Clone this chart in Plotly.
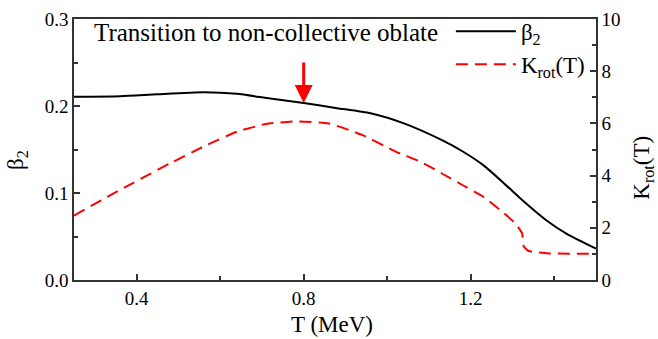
import plotly.graph_objects as go

# Quadrupole deformation beta_2 versus temperature
T_beta = [0.25, 0.36, 0.45, 0.56, 0.64, 0.72, 0.80, 0.88, 0.96, 1.04, 1.13,
          1.18, 1.23, 1.28, 1.33, 1.38, 1.43, 1.50]
beta2 = [0.2105, 0.2112, 0.2135, 0.2157, 0.2140, 0.2085, 0.2035, 0.1975, 0.1916,
         0.1800, 0.1610, 0.1480, 0.1320, 0.1110, 0.0890, 0.0690, 0.0530, 0.0360]

# Rotational enhancement factor K_rot(T)
T_krot = [0.25, 0.36, 0.48, 0.56, 0.64, 0.71, 0.78, 0.86, 0.94, 1.02, 1.08,
          1.13, 1.18, 1.23, 1.275, 1.307, 1.323, 1.327, 1.339, 1.387, 1.50]
krot = [2.47, 3.45, 4.47, 5.11, 5.68, 5.98, 6.08, 6.00, 5.56, 4.92, 4.53,
        4.09, 3.64, 3.19, 2.62, 2.17, 1.79, 1.28, 1.11, 1.02, 1.00]

# Marked transition point
T_mark = 0.80
beta_mark = 0.2035

FONT = "Liberation Serif"
AXIS_COLOR = "#333333"
TICK_FONT = dict(family=FONT, size=19, color="black")
TITLE_FONT = dict(family=FONT, size=23, color="black")

fig = go.Figure()
fig.add_trace(go.Scatter(
    x=T_beta, y=beta2, mode="lines", name="β<sub>2</sub>",
    line=dict(color="black", width=2, shape="spline", smoothing=0.6),
))
fig.add_trace(go.Scatter(
    x=T_krot, y=krot, mode="lines", name="K<sub>rot</sub>(T)", yaxis="y2",
    line=dict(color="#ff0000", width=2, dash="12px,7px", shape="spline", smoothing=0.4),
))

fig.add_annotation(
    x=0.294, y=0.284, xref="x", yref="y", text="Transition to non-collective oblate",
    showarrow=False, xanchor="left", yanchor="middle",
    font=dict(family=FONT, size=25, color="black"),
)
fig.add_annotation(
    x=T_mark, y=beta_mark, xref="x", yref="y", text="",
    showarrow=True, ax=0, ay=-42, arrowhead=2, arrowsize=1.2,
    arrowwidth=3, arrowcolor="#ff0000",
)

# Axis titles, placed in paper coordinates around the plotting area
fig.add_annotation(
    x=0.494, y=-0.224, xref="paper", yref="paper", text="T (MeV)",
    showarrow=False, xanchor="center", yanchor="bottom", borderpad=0, font=TITLE_FONT,
)
fig.add_annotation(
    x=-0.109, y=0.46, xref="paper", yref="paper", text="β<sub>2</sub>",
    showarrow=False, xanchor="center", yanchor="middle", textangle=-90, font=TITLE_FONT,
)
fig.add_annotation(
    x=1.09, y=0.43, xref="paper", yref="paper", text="K<sub>rot</sub>(T)",
    showarrow=False, xanchor="center", yanchor="middle", textangle=-90, font=TITLE_FONT,
)

fig.update_layout(
    width=658, height=339,
    margin=dict(l=74, r=62, t=19, b=59, autoexpand=False),
    plot_bgcolor="white", paper_bgcolor="white",
    font=dict(family=FONT, size=19, color="black"),
    xaxis=dict(
        range=[0.25, 1.5], dtick=0.4, tick0=0.0, mirror=True,
        showline=True, linecolor=AXIS_COLOR, linewidth=1.5,
        ticks="inside", ticklen=6, tickwidth=1.5, tickcolor=AXIS_COLOR,
        showgrid=False, zeroline=False, tickfont=TICK_FONT,
        minor=dict(dtick=0.2, tick0=0.0, ticks="inside", ticklen=4, tickcolor=AXIS_COLOR),
    ),
    yaxis=dict(
        range=[0, 0.3], dtick=0.1, tickformat=".1f",
        showline=True, linecolor=AXIS_COLOR, linewidth=1.5,
        ticks="inside", ticklen=6, tickwidth=1.5, tickcolor=AXIS_COLOR,
        showgrid=False, zeroline=False, tickfont=TICK_FONT,
        minor=dict(dtick=0.05, ticks="inside", ticklen=4, tickcolor=AXIS_COLOR),
    ),
    yaxis2=dict(
        range=[0, 10], dtick=2, overlaying="y", side="right",
        showline=True, linecolor=AXIS_COLOR, linewidth=1.5,
        ticks="inside", ticklen=6, tickwidth=1.5, tickcolor=AXIS_COLOR,
        showgrid=False, zeroline=False, tickfont=TICK_FONT,
        minor=dict(dtick=1, ticks="inside", ticklen=4, tickcolor=AXIS_COLOR),
    ),
    legend=dict(
        x=0.722, y=1.035, xanchor="left", yanchor="top",
        bgcolor="rgba(0,0,0,0)", itemwidth=60,
        font=dict(family=FONT, size=23, color="black"),
        tracegroupgap=0,
    ),
)

fig.write_html("out.html")
